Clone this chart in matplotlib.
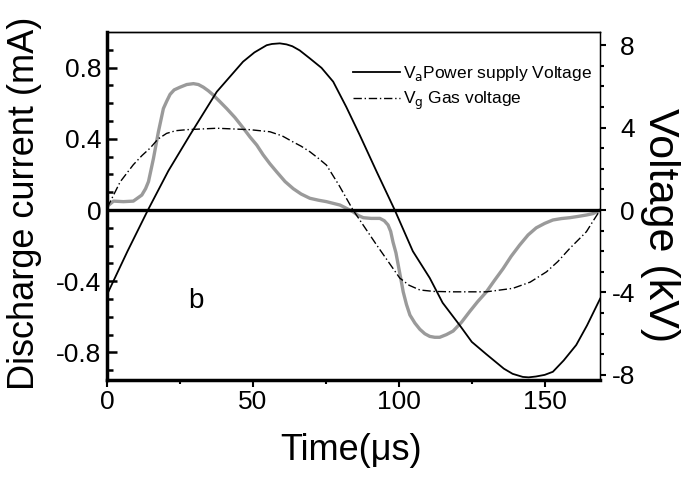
import numpy as np
import matplotlib
matplotlib.use('Agg')
import matplotlib.pyplot as plt

plt.rcParams['font.family'] = ['Liberation Sans', 'DejaVu Sans']
plt.rcParams['axes.unicode_minus'] = False

# power supply voltage (kV)
t_va = [0, 7, 14, 21, 28.4, 37.6, 46.6, 50.5, 54.7, 56.5, 59.2, 61.5, 63.5, 66, 69.5,
        73.5, 77.5, 82, 86.6, 92.4, 98.6, 104.8, 110.6, 115, 120.9, 125, 130, 136,
        139, 142.5, 144.5, 147, 150, 152.8, 156.5, 160.8, 164.5, 169]
va = [-4.1, -2.0, 0, 1.9, 3.64, 5.74, 7.2, 7.65, 8.0, 8.06, 8.09, 8.04, 7.95, 7.75,
      7.36, 6.9, 6.23, 5.0, 3.64, 1.86, 0, -2.0, -3.3, -4.5, -5.6, -6.4, -7.0, -7.7,
      -7.95, -8.1, -8.12, -8.08, -8.0, -7.85, -7.3, -6.55, -5.6, -4.3]

# gas voltage (kV)
t_vg = [0, 4.5, 9, 12, 14.7, 17.5, 20.4, 23.5, 27.3, 37.6, 49, 55.8, 60, 63.8, 66.5,
        69.5, 72.5, 75.2, 79.5, 84.3, 92.4, 100.3, 103.5, 107.2, 112, 118.6, 130,
        139.1, 145, 150.6, 154.5, 158.6, 161.5, 164.3, 166.5, 169]
vg = [0.1, 1.37, 2.2, 2.65, 3.0, 3.45, 3.72, 3.85, 3.9, 3.97, 3.9, 3.8, 3.6, 3.3, 3.1,
      2.83, 2.5, 2.18, 1.2, 0, -1.7, -3.3, -3.65, -3.88, -3.95, -3.97, -3.97,
      -3.8, -3.5, -3.0, -2.5, -1.86, -1.45, -1.05, -0.55, 0]

# discharge current (mA)
t_i = [0, 2.2, 5.6, 9, 11.9, 13.2, 14.2, 15.9, 17.6, 19.3, 20.4, 21.6, 23, 25, 27.3,
       29.6, 31.3, 33, 34.7, 36.4, 38.6, 41, 43.8, 46.7, 49, 51.3, 53.5, 55.8, 58.1,
       61, 63.8, 66.5, 69.5, 72.5, 75.2, 79.8, 82, 84.3, 86, 87.8, 90.5, 93.5, 95,
       96.3, 97.2, 98, 99, 99.8, 100.6, 101.5, 102.6, 103.8, 105.5, 107.2, 108.9,
       110.6, 112.3, 114, 116.3, 118.6, 121.5, 124.3, 127, 130, 132.8, 135.7, 138.5,
       141.4, 144.3, 147.1, 150, 152.8, 155.7, 158.6, 161.4, 164.3, 166.6, 169]
cur = [0.02, 0.05, 0.047, 0.05, 0.084, 0.12, 0.16, 0.29, 0.44, 0.57, 0.61, 0.65,
       0.675, 0.69, 0.705, 0.71, 0.705, 0.69, 0.67, 0.646, 0.61, 0.57, 0.52, 0.46,
       0.41, 0.365, 0.31, 0.26, 0.215, 0.16, 0.12, 0.09, 0.066, 0.055, 0.047, 0.028,
       0.01, -0.01, -0.03, -0.043, -0.047, -0.047, -0.06, -0.084, -0.12, -0.18,
       -0.24, -0.31, -0.38, -0.46, -0.53, -0.59, -0.635, -0.67, -0.695, -0.71,
       -0.715, -0.715, -0.70, -0.68, -0.63, -0.57, -0.515, -0.46, -0.395, -0.33,
       -0.26, -0.197, -0.14, -0.10, -0.075, -0.056, -0.048, -0.043, -0.036, -0.028,
       -0.02, 0]

left_ticks = [-0.8, -0.4, 0, 0.4, 0.8]
left_labels = ['-0.8', '-0.4', '0', '0.4', '0.8']
right_ticks = [-8, -4, 0, 4, 8]
right_labels = ['-8', '-4', '0', '4', '8']
x_ticks = [0, 50, 100, 150]

fig = plt.figure(figsize=(6.82, 4.78), dpi=100)
ax = fig.add_axes([0.157, 0.205, 0.723, 0.728])
ax2 = ax.twinx()

ax.plot(t_i, cur, color='#9a9a9a', lw=2.4, solid_joinstyle='round')
ax.axhline(0, color='black', lw=2.4)
l1, = ax2.plot(t_va, va, color='black', lw=1.3, solid_joinstyle='round',
               label=r'V$_{\rm a}$Power supply Voltage')
l2, = ax2.plot(t_vg, vg, color='black', lw=1.0, dashes=(6, 2, 1, 2),
               label=r'V$_{\rm g}$ Gas voltage')

ax.set_xlim(0, 169)
ax.set_ylim(-0.955, 1.0)
ax2.set_ylim(-8.25, 8.64)

ax.set_xticks(x_ticks)
ax.set_xticks([25, 75, 125], minor=True)
ax.set_yticks(left_ticks)
ax.set_yticklabels(left_labels)
ax.set_yticks(np.arange(-0.9, 1.0, 0.1), minor=True)
ax2.set_yticks(right_ticks)
ax2.set_yticklabels(right_labels)
ax2.set_yticks(np.arange(-8, 9, 1), minor=True)

ax.tick_params(axis='x', which='both', direction='out', labelsize=19, pad=2, width=1.5)
ax.tick_params(axis='x', which='major', length=5)
ax.tick_params(axis='x', which='minor', length=3)
ax.tick_params(axis='y', which='both', direction='in', labelsize=19, pad=4, width=1.8)
ax.tick_params(axis='y', which='major', length=7)
ax.tick_params(axis='y', which='minor', length=4)
ax2.tick_params(axis='y', which='both', direction='out', labelsize=19, pad=21, width=1.5)
ax2.tick_params(axis='y', which='major', length=4)
ax2.tick_params(axis='y', which='minor', length=3)
for lab in ax2.get_yticklabels():
    lab.set_horizontalalignment('right')

ax.spines['left'].set_linewidth(2.5)
ax.spines['bottom'].set_linewidth(2.5)
ax.spines['top'].set_linewidth(1.0)
ax2.spines['right'].set_linewidth(1.0)
ax2.spines['top'].set_linewidth(1.0)

ax.text(30.5, -0.51, 'b', fontsize=20, ha='center', va='center')

ax2.legend(handles=[l1, l2], loc='upper left', bbox_to_anchor=(0.499, 0.908),
           frameon=False, fontsize=12.5, borderpad=0, borderaxespad=0,
           handlelength=2.7, handletextpad=0.15, labelspacing=0.4)

fig.text(25 / 682, 1 - 203 / 478, 'Discharge current (mA)', rotation=90,
         fontsize=26, ha='center', va='center')
fig.text(660 / 682, 1 - 225 / 478, 'Voltage (kV)', rotation=-90,
         fontsize=31, ha='center', va='center')
fig.text(351 / 682, 1 - 451 / 478, 'Time(μs)', fontsize=26, ha='center', va='center')

fig.savefig('out.png', dpi=100)
